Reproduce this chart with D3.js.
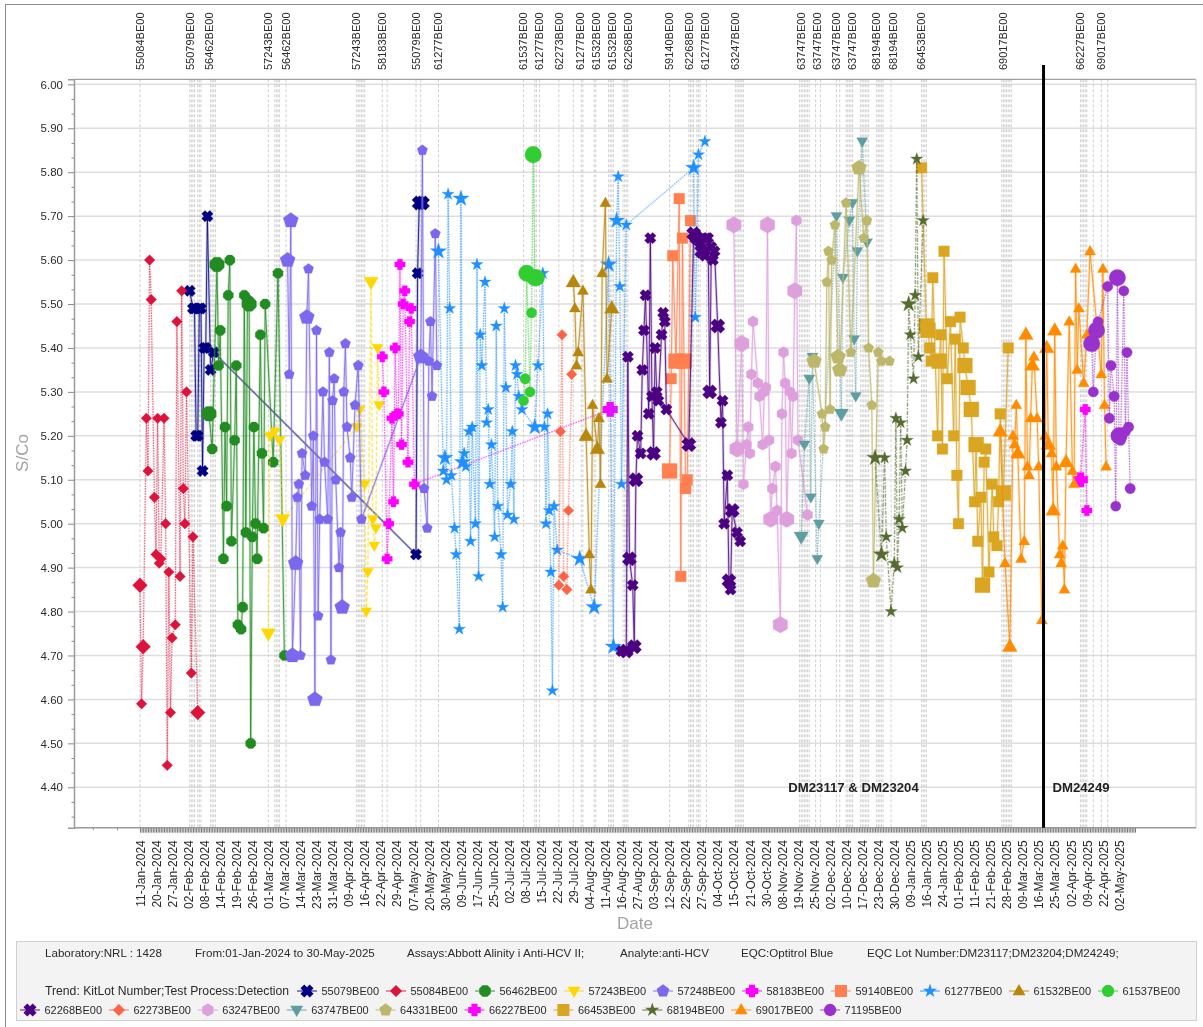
<!DOCTYPE html>
<html><head><meta charset="utf-8">
<script src="https://cdn.jsdelivr.net/npm/d3@7"></script>
<style>
html,body{margin:0;padding:0;background:#fff;overflow:hidden}
svg{display:block;filter:blur(0.35px)}
text{font-family:"Liberation Sans",Arial,sans-serif}
</style></head><body>
<svg id="chart" width="1203" height="1027"></svg>
<script>
// ---------- data: runs are sequential test numbers along the date axis ----------
const dateLabels=["11-Jan-2024","20-Jan-2024","27-Jan-2024","02-Feb-2024","08-Feb-2024","14-Feb-2024","19-Feb-2024","26-Feb-2024","01-Mar-2024","07-Mar-2024","14-Mar-2024","23-Mar-2024","31-Mar-2024","09-Apr-2024","16-Apr-2024","22-Apr-2024","29-Apr-2024","07-May-2024","20-May-2024","30-May-2024","09-Jun-2024","17-Jun-2024","25-Jun-2024","02-Jul-2024","08-Jul-2024","15-Jul-2024","22-Jul-2024","29-Jul-2024","04-Aug-2024","11-Aug-2024","16-Aug-2024","27-Aug-2024","03-Sep-2024","12-Sep-2024","22-Sep-2024","27-Sep-2024","04-Oct-2024","15-Oct-2024","21-Oct-2024","30-Oct-2024","08-Nov-2024","19-Nov-2024","25-Nov-2024","02-Dec-2024","10-Dec-2024","17-Dec-2024","23-Dec-2024","30-Dec-2024","09-Jan-2025","16-Jan-2025","24-Jan-2025","01-Feb-2025","11-Feb-2025","21-Feb-2025","28-Feb-2025","09-Mar-2025","16-Mar-2025","25-Mar-2025","02-Apr-2025","09-Apr-2025","22-Apr-2025","02-May-2025"];
const lotChangeRuns=[0,31,32,33,34,36,37,38,44,45,46,47,80,84,85,86,87,91,135,136,137,138,139,140,151,154,172,175,186,239,246,247,249,261,270,275,276,283,284,292,293,294,295,301,302,303,304,330,342,343,344,345,347,348,349,353,371,372,373,374,375,376,411,412,413,414,415,416,417,421,424,434,436,440,441,442,443,444,449,450,451,452,453,454,459,460,461,462,463,468,487,488,489,490,537,538,539,540,541,542,543,586,587,588,589,590,594,599,603];
const lotLabelRuns=[0,31,43,80,91,135,151,172,186,239,249,261,274,284,294,304,330,342,352,371,412,422,434,444,459,469,487,538,586,599];
const lotLabelNames=["55084BE00","55079BE00","56462BE00","57243BE00","56462BE00","57243BE00","58183BE00","55079BE00","61277BE00","61537BE00","61277BE00","62273BE00","61277BE00","61532BE00","61532BE00","62268BE00","59140BE00","62268BE00","61277BE00","63247BE00","63747BE00","63747BE00","63747BE00","63747BE00","68194BE00","68194BE00","66453BE00","69017BE00","66227BE00","69017BE00"];
const eqcChangeRun=563;

const runs55079=[31,33,34,35,36,37,38,39,40,41,42,44,46,172,173,174,176];
const vals55079=[5.53,5.49,5.49,5.20,5.20,5.49,5.49,5.12,5.40,5.40,5.70,5.35,5.39,4.93,5.57,5.73,5.73];
const dup55079=[174,176];
const runs55084=[0,1,2,4,5,6,7,9,10,11,12,13,15,16,17,18,19,20,22,23,25,26,27,28,29,32,33,36];
const vals55084=[4.86,4.59,4.72,5.24,5.12,5.60,5.51,5.06,4.93,5.24,4.91,4.92,5.24,5.00,4.45,4.89,4.57,4.74,4.77,5.46,4.88,5.53,5.08,5.00,5.30,4.66,4.97,4.57];
const dup55084=[0,2,36];
const runs56462=[43,45,48,49,50,52,53,54,55,56,57,59,60,61,63,64,65,66,67,68,69,70,71,72,73,75,76,77,78,83,86,90];
const vals56462=[5.25,5.17,5.59,5.36,5.44,4.92,5.22,5.04,5.52,5.60,4.96,5.19,5.36,4.77,4.76,4.81,5.52,4.98,5.51,5.50,4.50,4.97,5.22,5.00,4.92,5.43,5.16,4.99,5.50,5.14,5.57,4.70];
const dup56462=[43,48,68];
const runs57243=[80,81,84,87,89,135,137,140,141,142,144,145,146,147,148,149];
const vals57243=[4.75,5.20,5.21,5.19,5.01,5.22,5.26,5.09,4.80,4.89,5.55,5.01,4.95,4.99,5.40,5.27];
const dup57243=[80,89,144];
const runs57248=[92,93,94,95,97,98,99,100,101,103,104,105,107,108,109,110,111,112,114,115,117,118,119,120,121,122,124,125,126,127,128,129,131,132,134,136,138,175,176,177,179,180,181,182,184,185];
const vals57248=[5.60,5.34,5.69,4.70,4.91,5.06,5.09,4.70,5.16,5.11,5.47,5.58,5.04,5.20,4.60,5.44,4.79,5.01,5.30,5.14,5.01,5.39,4.69,5.28,5.33,5.10,4.90,4.98,4.81,5.30,5.41,5.22,5.15,5.06,5.27,5.36,5.01,5.38,5.85,5.08,4.99,5.37,5.46,5.29,5.66,5.36];
const dup57248=[92,94,95,97,104,109,126,175];
const runs58183=[151,152,154,155,157,158,159,160,161,162,163,164,165,167,168,169,171,293];
const vals58183=[5.38,5.30,4.92,5.00,5.24,5.05,5.40,5.25,5.25,5.59,5.18,5.50,5.53,5.14,5.46,5.49,5.09,5.26];
const dup58183=[293];
const runs59140=[330,331,332,334,336,337,338,339,340,341,343];
const vals59140=[5.12,5.33,5.61,5.37,5.74,4.88,5.65,5.37,5.08,5.10,5.69];
const dup59140=[330,334,339];
const runs61277=[186,189,190,191,192,193,194,196,197,199,200,201,202,203,205,206,207,209,210,211,212,213,215,216,217,218,219,221,222,223,225,226,227,228,229,231,232,233,234,235,236,238,246,248,251,252,253,254,255,256,257,258,260,274,283,292,295,297,298,299,300,303,345,346,348,352];
const vals61277=[5.62,5.12,5.15,5.10,5.75,5.49,5.11,4.99,4.93,4.76,5.74,5.14,5.16,5.13,5.21,4.96,5.22,5.00,5.59,4.88,5.43,5.36,5.55,5.23,5.26,5.09,5.18,4.97,5.45,5.04,4.93,4.81,5.49,5.31,5.02,5.09,5.21,5.01,5.36,5.34,5.29,5.26,5.22,5.36,5.57,5.22,5.00,5.25,5.03,4.89,4.62,5.04,4.94,4.92,4.81,5.59,4.72,5.69,5.79,5.54,5.09,5.68,5.81,5.47,5.84,5.87];
const dup61277=[186,190,200,201,246,274,283,292,295,297,345];
const runs61532=[270,271,272,273,276,278,280,281,282,285,286,287,288,290,291,294];
const vals61532=[5.55,5.49,5.36,5.39,5.53,5.20,4.93,4.85,5.27,5.17,5.24,5.09,5.57,5.73,5.33,5.49];
const dup61532=[270,278,285,294];
const runs61537=[239,240,241,243,244,245,246,247];
const vals61537=[5.28,5.33,5.57,5.30,5.48,5.84,5.56,5.56];
const dup61537=[241,245,246,247];
const runs62268=[300,303,304,305,307,308,309,310,312,313,314,315,317,318,319,320,321,322,323,325,326,327,328,342,345,347,349,350,352,353,354,355,356,357,358,360,362,363,364,366,367,368,369,372,374];
const vals62268=[4.71,4.71,5.38,4.92,4.86,4.72,5.10,5.20,5.16,5.35,5.44,5.52,5.25,5.65,5.29,5.16,5.40,5.30,5.28,5.43,5.48,5.46,5.26,5.18,5.66,5.65,5.64,5.62,5.61,5.65,5.65,5.30,5.63,5.60,5.62,5.45,5.23,5.28,5.00,5.11,4.87,4.85,5.03,4.98,4.96];
const dup62268=[303,305,308,309,320,342,345,347,350,355,360,367,369];
const runs62273=[261,262,263,264,266,267,269];
const vals62273=[4.86,5.21,5.43,4.88,4.85,5.03,5.34];
const dup62273=[];
const runs63247=[370,372,375,376,378,379,380,381,382,385,386,388,389,390,391,392,393,394,396,397,399,400,401,402,403,405,406,407,408,409,410,416];
const vals63247=[5.68,5.17,5.41,5.09,5.18,5.22,5.16,5.34,5.46,5.32,5.29,5.18,5.30,5.31,5.68,5.19,5.01,5.08,5.13,5.03,4.77,5.25,5.39,5.32,5.01,5.30,5.16,5.29,5.53,5.69,5.19,5.02];
const dup63247=[370,372,375,391,393,399,403,408];
const runs63747=[412,414,417,418,419,422,423,434,437,438,442,444,445,446,447,450,453];
const vals63747=[4.97,5.18,5.33,5.06,5.38,4.92,5.00,5.70,5.25,5.56,5.69,5.73,5.42,5.29,5.62,5.87,5.64];
const dup63747=[412,437];
const runs64331=[420,425,426,427,428,429,430,431,433,435,436,440,443,448,451,453,454,456,457,460,462,467];
const vals64331=[5.37,5.25,5.17,5.22,5.55,5.62,5.26,5.60,5.68,5.38,5.35,5.73,5.39,5.81,5.65,5.69,5.40,5.27,4.87,5.39,5.37,5.37];
const dup64331=[420,435,436,448,457];
const runs66227=[586,589,590];
const vals66227=[5.10,5.26,5.03];
const dup66227=[586];
const runs66453=[487,490,491,492,493,494,497,498,499,500,501,503,505,507,508,509,510,511,513,514,516,518,520,521,522,524,525,526,527,529,531,532,534,535,536,538,541];
const vals66453=[5.81,5.45,5.44,5.40,5.37,5.56,5.20,5.37,5.43,5.17,5.62,5.33,5.46,5.20,5.42,5.11,5.00,5.47,5.40,5.36,5.31,5.26,5.05,5.18,4.96,5.06,4.86,5.14,5.17,4.89,5.09,4.97,4.95,5.05,5.25,5.07,5.40];
const dup66453=[490,491,498,514,516,518,521,525,538];
const runs68194=[458,462,464,465,468,470,471,472,473,474,475,477,478,479,480,482,483,484,485,488];
const vals68194=[5.15,4.93,5.15,4.97,4.80,4.91,5.24,4.90,5.01,5.23,4.99,5.12,5.19,5.50,5.43,5.33,5.52,5.83,5.38,5.69];
const dup68194=[458,462,479];
const runs69017=[536,539,542,544,545,546,547,549,551,552,553,554,555,556,557,559,560,562,564,565,566,568,569,570,571,573,574,575,576,577,579,581,582,583,584,585,588,590,592,599,600,601,602];
const vals69017=[5.21,4.91,4.72,5.20,5.18,5.27,5.16,4.92,4.96,5.43,5.13,5.11,5.24,5.36,5.38,5.24,5.13,4.78,5.20,5.40,5.18,5.16,5.03,5.44,5.13,4.93,4.91,4.95,4.85,5.14,5.46,5.12,5.09,5.58,5.35,5.49,5.32,5.43,5.62,5.34,5.58,5.27,5.13];
const dup69017=[536,542,547,552,556,565,566,569,570,577];
const runs71195=[593,594,596,597,603,604,605,607,608,609,610,611,613,614,615,616,617];
const vals71195=[5.41,5.30,5.44,5.46,5.54,5.24,5.36,5.29,5.04,5.56,5.20,5.19,5.53,5.21,5.39,5.22,5.08];
const dup71195=[593,596,609,610];

// ---------- marker shapes ----------
function poly(n,rot){return {draw(c,size){const r=Math.sqrt(size/(n/2*Math.sin(2*Math.PI/n)));for(let i=0;i<n;i++){const a=rot+i*2*Math.PI/n,x=r*Math.sin(a),y=-r*Math.cos(a);i?c.lineTo(x,y):c.moveTo(x,y);}c.closePath();}};}
const symPent=poly(5,0),symHex=poly(6,0),symOct=poly(8,Math.PI/8);
const symDown={draw(c,s){const h=Math.sqrt(s*Math.sqrt(3))/Math.sqrt(3)*1.5,w=h/Math.sqrt(3);c.moveTo(0,h*.62);c.lineTo(w,-h*.38);c.lineTo(-w,-h*.38);c.closePath();}};
const symUp={draw(c,s){const h=Math.sqrt(s*Math.sqrt(3))/Math.sqrt(3)*1.5,w=h/Math.sqrt(3);c.moveTo(0,-h*.62);c.lineTo(w,h*.38);c.lineTo(-w,h*.38);c.closePath();}};
const symX={draw(c,s){const r=Math.sqrt(s)*0.62,t=r*0.42;const p=[[-t,-r],[t,-r],[t,-t],[r,-t],[r,t],[t,t],[t,r],[-t,r],[-t,t],[-r,t],[-r,-t],[-t,-t]];const k=Math.SQRT1_2;p.forEach(([x,y],i)=>{const X=(x-y)*k,Y=(x+y)*k;i?c.lineTo(X,Y):c.moveTo(X,Y);});c.closePath();}};
const symPlus={draw(c,s){const r=Math.sqrt(s)*0.6,t=r*0.48;const p=[[-t,-r],[t,-r],[t,-t],[r,-t],[r,t],[t,t],[t,r],[-t,r],[-t,t],[-r,t],[-r,-t],[-t,-t]];p.forEach(([x,y],i)=>{i?c.lineTo(x,y):c.moveTo(x,y);});c.closePath();}};
const symDia={draw(c,s){const r=Math.sqrt(s)*0.58;c.moveTo(0,-r);c.lineTo(r,0);c.lineTo(0,r);c.lineTo(-r,0);c.closePath();}};
// marker areas [single, replicated, legend] per shape
const markerAreas=new Map([
 [symX,[85,135,110]],[symDia,[85,165,110]],[symOct,[85,175,110]],[symDown,[72,120,95]],
 [symPent,[70,150,105]],[symPlus,[75,150,110]],[d3.symbolSquare,[115,225,145]],[d3.symbolStar,[46,82,62]],
 [symUp,[72,125,95]],[d3.symbolCircle,[85,215,120]],[symHex,[85,180,110]]
]);

const DOT="1.6,1", DASH="4,2", SOLID=null, DD="4,1.5,1.5,1.5";
const legendRows=[
 ["55079BE00","#000080",symX,SOLID,runs55079,vals55079,dup55079],
 ["55084BE00","#DC143C",symDia,DOT,runs55084,vals55084,dup55084],
 ["56462BE00","#228B22",symOct,SOLID,runs56462,vals56462,dup56462],
 ["57243BE00","#FFD700",symDown,DASH,runs57243,vals57243,dup57243],
 ["57248BE00","#7B68EE",symPent,SOLID,runs57248,vals57248,dup57248],
 ["58183BE00","#FF00FF",symPlus,DOT,runs58183,vals58183,dup58183],
 ["59140BE00","#FF7F50",d3.symbolSquare,SOLID,runs59140,vals59140,dup59140],
 ["61277BE00","#1E90FF",d3.symbolStar,DOT,runs61277,vals61277,dup61277],
 ["61532BE00","#B8860B",symUp,SOLID,runs61532,vals61532,dup61532],
 ["61537BE00","#32CD32",d3.symbolCircle,DOT,runs61537,vals61537,dup61537],
 ["62268BE00","#4B0082",symX,SOLID,runs62268,vals62268,dup62268],
 ["62273BE00","#FF6347",symDia,DOT,runs62273,vals62273,dup62273],
 ["63247BE00","#DDA0DD",symHex,SOLID,runs63247,vals63247,dup63247],
 ["63747BE00","#5F9EA0",symDown,DOT,runs63747,vals63747,dup63747],
 ["64331BE00","#BDB76B",symPent,SOLID,runs64331,vals64331,dup64331],
 ["66227BE00","#FF00FF",symPlus,DOT,runs66227,vals66227,dup66227],
 ["66453BE00","#DAA520",d3.symbolSquare,SOLID,runs66453,vals66453,dup66453],
 ["68194BE00","#556B2F",d3.symbolStar,DD,runs68194,vals68194,dup68194],
 ["69017BE00","#FF8C00",symUp,SOLID,runs69017,vals69017,dup69017],
 ["71195BE00","#9932CC",d3.symbolCircle,DOT,runs71195,vals71195,dup71195]
];

// ---------- layout ----------
const svg=d3.select("#chart");
const L=74,R=1196,T=79.3,B=827.7;
const x=d3.scaleLinear().domain([-41.1,658]).range([L,R]);
const y=d3.scaleLinear().domain([4.308,6.0115]).range([B,T]);

// frame
svg.append("rect").attr("x",5.5).attr("y",4.5).attr("width",1300).attr("height",1100).attr("fill","#fff").attr("stroke","#8c8c8c");

// horizontal grid
const majorY=d3.range(44,61).map(d=>d/10);
const minorY=d3.range(0,52).map(d=>4.3333+d/30).filter(v=>v<6.005&&Math.abs(v*10-Math.round(v*10))>0.05);
svg.append("g").selectAll("line").data(majorY).join("line").attr("x1",L).attr("x2",R).attr("y1",d=>y(d)).attr("y2",d=>y(d)).attr("stroke","#dedede").attr("stroke-width",1.5);

// lot change verticals
svg.append("g").selectAll("line").data(lotChangeRuns).join("line").attr("x1",d=>x(d)).attr("x2",d=>x(d)).attr("y1",T).attr("y2",B).attr("stroke","#c4c4c4").attr("stroke-width",.8).attr("stroke-dasharray","3,2");

// plot borders
svg.append("line").attr("x1",L).attr("x2",R).attr("y1",T).attr("y2",T).attr("stroke","#8a8a8a");
svg.append("line").attr("x1",R).attr("x2",R).attr("y1",T).attr("y2",B).attr("stroke","#d8d8d8").attr("stroke-width",1.5);

// y axis
const yAxis=svg.append("g").attr("transform",`translate(${L},0)`).call(d3.axisLeft(y).tickValues(majorY).tickSize(6).tickFormat(d3.format(".2f")));
yAxis.select(".domain").attr("stroke","#9a9a9a").attr("stroke-width",1.5);
yAxis.selectAll(".tick line").attr("stroke","#8a8a8a");
yAxis.selectAll("text").attr("font-size",11.5).attr("fill","#2a2a2a").attr("font-family",'"Liberation Sans",Arial,sans-serif').attr("x",-11);
svg.append("g").attr("transform",`translate(${L},0)`).call(d3.axisLeft(y).tickValues(minorY).tickSize(2.5).tickFormat("")).call(g=>{g.select(".domain").remove();g.selectAll("line").attr("stroke","#8a8a8a");});

// x axis: dense run ticks and date labels
const xDense=svg.append("g").attr("transform",`translate(0,${B})`).call(d3.axisBottom(x).tickValues(d3.range(0,621)).tickSize(5).tickFormat(""));
xDense.select(".domain").remove();
xDense.selectAll("line").attr("stroke","#777").attr("stroke-width",1);
svg.append("g").attr("transform",`translate(0,${B})`).call(d3.axisBottom(x).tickValues([-29.4,-14.3]).tickSize(2.5).tickFormat("")).call(g=>{g.select(".domain").remove();g.selectAll("line").attr("stroke","#8a8a8a");});
svg.append("line").attr("x1",L).attr("x2",R).attr("y1",B).attr("y2",B).attr("stroke","#9a9a9a").attr("stroke-width",1.5);
const labelRuns=dateLabels.map((d,i)=>i*10);
const xLab=svg.append("g").attr("transform",`translate(0,${B})`).call(d3.axisBottom(x).tickValues(labelRuns).tickSize(0).tickFormat((d,i)=>dateLabels[i]));
xLab.select(".domain").remove();
xLab.selectAll("text").attr("font-size",12).attr("fill","#2a2a2a").attr("font-family",'"Liberation Sans",Arial,sans-serif').attr("text-anchor","end").attr("transform","rotate(-90)").attr("x",-12.5).attr("y",0).attr("dy",".35em");

// top lot labels
svg.append("g").selectAll("text").data(lotLabelRuns).join("text").attr("transform",d=>`translate(${x(d)},70) rotate(-90)`).attr("dy",".35em").attr("font-size",11).attr("fill","#2a2a2a").text((d,i)=>lotLabelNames[i]);

// axis titles
svg.append("text").attr("transform","translate(22,453) rotate(-90)").attr("text-anchor","middle").attr("dy",".35em").attr("font-size",17).attr("fill","#a3a3a3").text("S/Co");
svg.append("text").attr("x",635).attr("y",929).attr("text-anchor","middle").attr("font-size",17).attr("fill","#a3a3a3").text("Date");

// series
const lineGen=d3.line().x(d=>x(d[0])).y(d=>y(d[1]));
legendRows.forEach(([name,color,sym,dash,runs,vals,dups])=>{
  const pts=runs.map((r,i)=>[r,vals[i]]);
  const [small,big]=markerAreas.get(sym);
  const g=svg.append("g").attr("class","s"+name);
  g.append("path").datum(pts).attr("d",lineGen).attr("fill","none").attr("stroke",color).attr("stroke-width",2.6).attr("stroke-opacity",dash?.14:.22).attr("stroke-dasharray",dash);
  g.append("path").datum(pts).attr("d",lineGen).attr("fill","none").attr("stroke",color).attr("stroke-width",1).attr("stroke-opacity",dash?.6:.8).attr("stroke-dasharray",dash);
  g.selectAll("path.m").data(pts).join("path").attr("class","m")
    .attr("transform",d=>`translate(${x(d[0])},${y(d[1])})`)
    .attr("d",d=>d3.symbol().type(sym).size(dups.includes(d[0])?big:small)())
    .attr("fill",color).attr("stroke",color).attr("stroke-opacity",.3).attr("stroke-width",1);
});

// EQC lot change marker and annotations
svg.append("line").attr("x1",x(eqcChangeRun)).attr("x2",x(eqcChangeRun)).attr("y1",65).attr("y2",B).attr("stroke","#000").attr("stroke-width",3);
svg.append("text").attr("x",853.5).attr("y",791.5).attr("text-anchor","middle").attr("font-size",13.2).attr("font-weight","bold").attr("fill","#222").text("DM23117 & DM23204");
svg.append("text").attr("x",1081).attr("y",791.5).attr("text-anchor","middle").attr("font-size",13.2).attr("font-weight","bold").attr("fill","#222").text("DM24249");

// info + legend panel
svg.append("rect").attr("x",16.5).attr("y",941.5).attr("width",1180).attr("height",79).attr("fill","#f3f3f3").attr("stroke","#cfcfcf");
const infoTexts=["Laboratory:NRL : 1428","From:01-Jan-2024 to 30-May-2025","Assays:Abbott Alinity i Anti-HCV II;","Analyte:anti-HCV","EQC:Optitrol Blue","EQC Lot Number:DM23117;DM23204;DM24249;"];
const infoAt=[45,195,407,620,741,867];
svg.append("g").selectAll("text").data(infoTexts).join("text").attr("x",(d,i)=>infoAt[i]).attr("y",957).attr("font-size",11.6).attr("fill","#2a2a2a").text(d=>d);
svg.append("text").attr("x",45).attr("y",995).attr("font-size",12.2).attr("fill","#2a2a2a").text("Trend: KitLot Number;Test Process:Detection");
const legX=i=>i<10?307+i*89:30+(i-10)*88.9, legY=i=>i<10?991:1010;
legendRows.forEach(([name,color,sym],i)=>{
  const g=svg.append("g").attr("transform",`translate(${legX(i)},${legY(i)})`);
  g.append("line").attr("x1",-10).attr("x2",10).attr("stroke",color).attr("stroke-width",1).attr("stroke-opacity",.9);
  g.append("path").attr("d",d3.symbol().type(sym).size(markerAreas.get(sym)[2])()).attr("fill",color);
  g.append("text").attr("x",14.5).attr("y",4).attr("font-size",11).attr("fill","#2a2a2a").text(name);
});
</script></body></html>
